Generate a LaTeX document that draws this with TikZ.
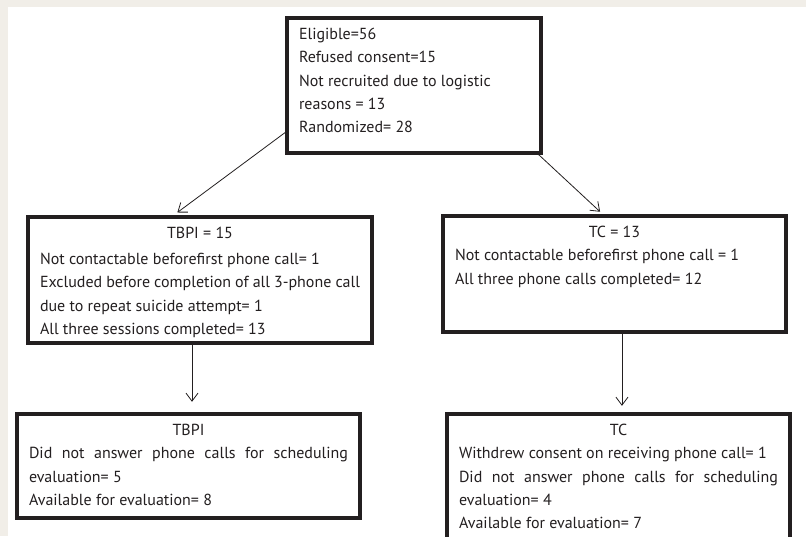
\documentclass[tikz,border=0pt]{standalone}
\usepackage{fontspec}
\setmainfont{PT Sans}
\usetikzlibrary{arrows.meta,positioning}
\definecolor{pagebg}{HTML}{F1EEE8}
\definecolor{ink}{HTML}{231F20}
\newcommand{\flowbody}[3]{\parbox[c][#2][t]{#1}{\raggedright\fontsize{12pt}{17.5pt}\selectfont #3}}
\begin{document}
\begin{tikzpicture}[x=0.75pt,y=-0.75pt,
  flow/.style={draw=ink,line width=2.3pt,inner xsep=9pt,inner ysep=7.5pt,text=ink},
  arr/.style={draw=ink,line width=0.6pt,-{Straight Barb[length=6pt,width=9pt]}}]
\useasboundingbox (0,0) rectangle (806,536);
\fill[pagebg] (0,0) rectangle (806,536);
\fill[white] (8,7) rectangle (806,536);
% boxes
\node[flow] (start) at (414,85.5) {\flowbody{172.5pt}{86.25pt}{Eligible=56\\Refused consent=15\\Not recruited due to logistic\\reasons = 13\\Randomized= 28}};
\node[flow] (tbpi) at (200,280) {\flowbody{240pt}{79.5pt}{\centerline{TBPI = 15}\vspace{2pt}Not contactable beforefirst phone call= 1\\Excluded before completion of all 3-phone call\\due to repeat suicide attempt= 1\\All three sessions completed= 13}};
\node[flow] (tc) at (614.5,274) {\flowbody{239.25pt}{72pt}{\centerline{TC = 13}Not contactable beforefirst phone call = 1\\All three phone calls completed= 12}};
\node[flow] (tbpieval) at (188.5,466) {\flowbody{239.25pt}{63pt}{\centerline{TBPI}\makebox[\linewidth][s]{Did not answer phone calls for scheduling}\\evaluation= 5\\Available for evaluation= 8}};
\node[flow] (tceval) at (618.5,482) {\flowbody{239.25pt}{87pt}{\centerline{TC}Withdrew consent on receiving phone call= 1\\\makebox[\linewidth][s]{Did not answer phone calls for scheduling}\\evaluation= 4\\Available for evaluation= 7}};
% arrows
\draw[arr,shorten >=3.75pt] (start.200) -- ([xshift=-20pt]tbpi.north);
\draw[arr,shorten >=3pt] ([xshift=-3pt]start.south east) -- ([xshift=-8.6pt]tc.north);
\coordinate (tbpiout) at ([xshift=-6pt]tbpi.south);
\coordinate (tcout) at ([xshift=5.6pt]tc.south);
\draw[arr,shorten >=8pt] (tbpiout) -- (tbpiout |- tbpieval.north);
\draw[arr,shorten >=5pt] (tcout) -- (tcout |- tceval.north);
\end{tikzpicture}
\end{document}
